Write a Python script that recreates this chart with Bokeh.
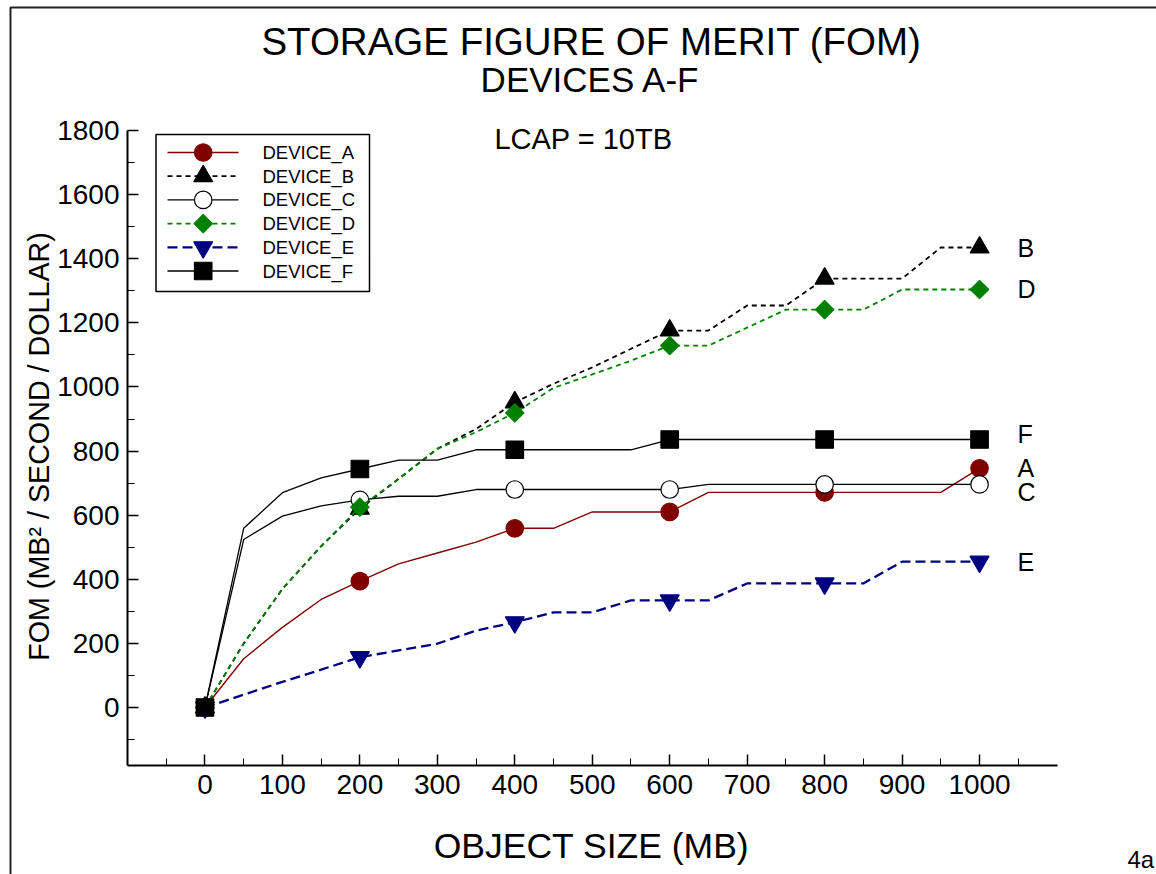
import numpy as np
from bokeh.plotting import figure
from bokeh.models import FixedTicker, Label, ColumnDataSource, BoxAnnotation, Range1d
from bokeh.embed import file_html
from bokeh.resources import INLINE
from bokeh.core.properties import value

# ---------------- data ----------------
object_size = [0, 50, 100, 150, 200, 250, 300, 350, 400, 450, 500,
               550, 600, 650, 700, 750, 800, 850, 900, 950, 1000]
device_a = [0, 152, 250, 337, 394, 448, 482, 516, 559, 559, 610,
            610, 610, 671, 671, 671, 671, 671, 671, 671, 746]
device_b = [0, 200, 370, 503, 620, 713, 807, 869, 952, 1010, 1061,
            1119, 1176, 1176, 1254, 1254, 1338, 1338, 1338, 1435, 1435]
device_c = [0, 524, 597, 629, 648, 659, 659, 680, 680, 680, 680,
            680, 680, 696, 696, 696, 696, 696, 696, 696, 696]
device_d = [0, 199, 370, 503, 625, 713, 807, 859, 919, 997, 1039,
            1082, 1129, 1129, 1185, 1241, 1241, 1241, 1304, 1304, 1304]
device_e = [0, 40, 80, 118, 157, 178, 199, 240, 266, 297, 297,
            334, 334, 334, 387, 387, 387, 387, 455, 455, 455]
device_f = [0, 559, 670, 716, 744, 772, 772, 804, 804, 804, 804,
            804, 836, 836, 836, 836, 836, 836, 836, 836, 836]
series_names = ["DEVICE_A", "DEVICE_B", "DEVICE_C", "DEVICE_D", "DEVICE_E", "DEVICE_F"]
end_labels = ["A", "B", "C", "D", "E", "F"]
x_ticks = [0, 100, 200, 300, 400, 500, 600, 700, 800, 900, 1000]
y_ticks = [0, 200, 400, 600, 800, 1000, 1200, 1400, 1600, 1800]

FONT = "Liberation Sans"

# ---------------- layout geometry (pixels) ----------------
W, H = 1156, 874
X_LO, X_HI = -100, 1100          # extent of the x axis line
Y_LO, Y_HI = -180, 1800          # extent of the y axis line
AX_L, AX_R = 127.0, 1056.5       # pixel columns of X_LO / X_HI
AX_T, AX_B = 130.0, 764.7        # pixel rows of Y_HI / Y_LO
SX = (AX_R - AX_L) / (X_HI - X_LO)
SY = (AX_B - AX_T) / (Y_HI - Y_LO)


def px_x(px):
    return X_LO + (px - AX_L) / SX


def px_y(py):
    return Y_HI - (py - AX_T) / SY


p = figure(width=W, height=H, x_range=Range1d(px_x(0), px_x(W)), y_range=Range1d(px_y(H), px_y(0)),
           output_backend="svg", toolbar_location=None,
           min_border_left=0, min_border_right=0, min_border_top=0, min_border_bottom=0)
p.title.visible = False
p.xgrid.visible = False
p.ygrid.visible = False
p.outline_line_color = None
p.background_fill_color = "white"
p.border_fill_color = "white"

# axes, drawn inside the (full-canvas) frame
p.xaxis.ticker = FixedTicker(ticks=x_ticks, minor_ticks=[t - 50 for t in x_ticks] + [1050])
p.yaxis.ticker = FixedTicker(ticks=y_ticks, minor_ticks=[t - 100 for t in y_ticks])
p.xaxis.fixed_location = Y_LO
p.yaxis.fixed_location = X_LO
p.xaxis.bounds = (X_LO, X_HI)
p.yaxis.bounds = (Y_LO, Y_HI)
for ax in (p.xaxis, p.yaxis):
    ax.axis_line_width = 2
    ax.axis_line_color = "black"
    ax.major_tick_in = 11
    ax.major_tick_out = 0
    ax.minor_tick_in = 7
    ax.minor_tick_out = 0
    ax.major_tick_line_width = 1.5
    ax.minor_tick_line_width = 1
    ax.major_tick_line_color = "black"
    ax.minor_tick_line_color = "black"
    ax.major_label_text_font = FONT
    ax.major_label_text_font_size = "28px"
    ax.major_label_text_color = "black"
p.xaxis.major_label_standoff = 10
p.yaxis.major_label_standoff = 8

# series
all_series = [device_a, device_b, device_c, device_d, device_e, device_f]
styles = [
    dict(color="#800000", width=1.4, dash="solid", marker="circle", size=17.5, fill="#800000", angle=0),
    dict(color="black", width=1.8, dash="5 4", marker="triangle", size=19, fill="black", angle=0),
    dict(color="black", width=1.3, dash="solid", marker="circle", size=17.5, fill="white", angle=0),
    dict(color="#008000", width=1.8, dash="5 4", marker="square", size=13, fill="#008000", angle=np.pi / 4),
    dict(color="#000080", width=2.3, dash="10 5", marker="inverted_triangle", size=19, fill="#000080", angle=0),
    dict(color="black", width=1.3, dash="solid", marker="square", size=17.5, fill="black", angle=0),
]

for ys, st in zip(all_series, styles):
    src = ColumnDataSource(dict(x=object_size, y=ys))
    msrc = ColumnDataSource(dict(x=object_size[::4], y=ys[::4]))
    p.line("x", "y", source=src, line_color=st["color"], line_width=st["width"], line_dash=st["dash"])
    p.scatter("x", "y", source=msrc, marker=st["marker"], size=st["size"],
              fill_color=st["fill"], line_color="black" if st["fill"] == "white" else st["fill"],
              line_width=1.2, angle=st["angle"])

# ---------------- legend box (drawn with glyphs so markers keep full size) ----------------
LEG_L, LEG_T, LEG_R, LEG_B = 155.5, 134.0, 369.0, 291.0
ROW0, ROW_STEP = 152.0, 23.7
p.quad(left=[px_x(LEG_L)], right=[px_x(LEG_R)], top=[px_y(LEG_T)], bottom=[px_y(LEG_B)],
       fill_color="white", line_color="black", line_width=1.5)
for i, (name, st) in enumerate(zip(series_names, styles)):
    ry = px_y(ROW0 + ROW_STEP * i)
    p.line([px_x(167), px_x(238)], [ry, ry], line_color=st["color"], line_width=st["width"],
           line_dash=st["dash"])
    p.scatter([px_x(202.7)], [ry], marker=st["marker"], size=st["size"], fill_color=st["fill"],
              line_color="black" if st["fill"] == "white" else st["fill"], line_width=1.2,
              angle=st["angle"])
leg_src = ColumnDataSource(dict(x=[px_x(262)] * len(series_names),
                                y=[px_y(ROW0 + ROW_STEP * i) for i in range(len(series_names))],
                                text=series_names))
p.text("x", "y", text="text", source=leg_src, text_font=value(FONT), text_font_size="18.5px",
       text_baseline="middle", text_align="left", text_color="black")

# end-of-line labels
end_y = [s[-1] for s in all_series]
end_offsets = [0, 0, 8, 0, 0, -6]
lab_src = ColumnDataSource(dict(x=[px_x(1017)] * 6, y=end_y, text=end_labels, dy=end_offsets))
p.text("x", "y", text="text", source=lab_src, y_offset="dy", text_font=value(FONT),
       text_font_size="25px", text_baseline="middle", text_align="left", text_color="black")


# titles, axis titles and annotations
def add_label(px, py, text, size, align="center", baseline="middle", angle=0.0):
    p.add_layout(Label(x=px_x(px), y=px_y(py), text=text, text_align=align, text_baseline=baseline,
                       text_font=FONT, text_font_size=size, text_color="black", angle=angle))


add_label(591, 41, "STORAGE FIGURE OF MERIT (FOM)", "38.5px")
add_label(590, 79, "DEVICES A-F", "35px")
add_label(583, 138, "LCAP = 10TB", "29px")
add_label(591, 845, "OBJECT SIZE (MB)", "35.5px")
add_label(38, 446, "FOM (MB\u00b2 / SECOND / DOLLAR)", "28.7px", angle=np.pi / 2)
add_label(1127, 859, "4a", "24px", align="left", baseline="middle")

# page border (only its top and left edges fall on the page)
p.add_layout(BoxAnnotation(left=px_x(10), right=px_x(W + 50), top=px_y(7), bottom=px_y(H + 50),
                           fill_alpha=0, line_color="#222222", line_width=2, line_alpha=1))

open("out.html", "w").write(file_html(p, INLINE))
